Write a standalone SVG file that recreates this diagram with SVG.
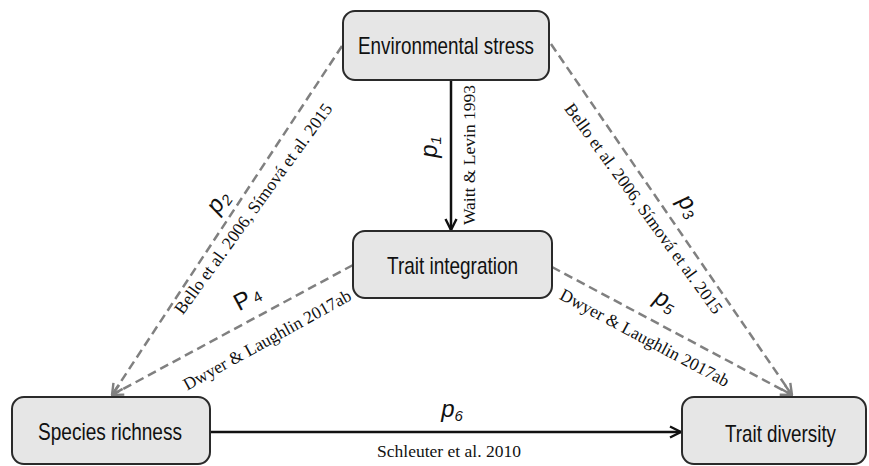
<svg xmlns="http://www.w3.org/2000/svg" width="869" height="466" viewBox="0 0 869 466">
<style>
.box{fill:#e6e6e6;stroke:#2a2a2a;stroke-width:2}
.lbl{font-family:"Liberation Sans",Arial,sans-serif;font-size:24px;fill:#111;text-anchor:middle}
.cit{font-family:"Liberation Serif","Times New Roman",serif;font-size:17.5px;fill:#111;text-anchor:middle}
.pv{font-family:"Liberation Sans",Arial,sans-serif;font-size:24px;font-style:italic;fill:#111;text-anchor:middle}
.solid{stroke:#111;stroke-width:2.5;fill:none}
.dash{stroke:#808080;stroke-width:2.5;fill:none;stroke-dasharray:9 5}
</style>
<defs>
<marker id="ab" viewBox="0 0 14 14" refX="13" refY="7" markerWidth="14" markerHeight="14" orient="auto" markerUnits="userSpaceOnUse">
<path d="M2,1.5 L13,7 L2,12.5" fill="none" stroke="#111" stroke-width="2.4"/>
</marker>
<marker id="ag" viewBox="0 0 14 14" refX="13" refY="7" markerWidth="14" markerHeight="14" orient="auto" markerUnits="userSpaceOnUse">
<path d="M2,1.5 L13,7 L2,12.5" fill="none" stroke="#808080" stroke-width="2.4"/>
</marker>
</defs>
<g id="connectors">
<line class="solid" x1="451" y1="80" x2="451" y2="230" marker-end="url(#ab)"/>
<line class="solid" x1="210" y1="432" x2="681" y2="432" marker-end="url(#ab)"/>
<line class="dash" x1="342" y1="46" x2="112" y2="395" marker-end="url(#ag)"/>
<line class="dash" x1="551" y1="44" x2="792" y2="395" marker-end="url(#ag)"/>
<line class="dash" x1="353" y1="265" x2="112" y2="395" marker-end="url(#ag)"/>
<line class="dash" x1="552" y1="267" x2="792" y2="395" marker-end="url(#ag)"/>
<text class="pv" transform="translate(437,147) rotate(-90)">p<tspan font-size="15" dy="4">1</tspan></text>
<text class="cit" transform="translate(475,155) rotate(-90)">Waitt &amp; Levin 1993</text>
<text class="pv" transform="translate(224,206) rotate(-55)">p<tspan font-size="15" dy="4">2</tspan></text>
<text class="cit" transform="translate(258,212) rotate(-54)">Bello et al. 2006, Símová et al. 2015</text>
<text class="pv" transform="translate(683,210) rotate(54)">p<tspan font-size="15" dy="4">3</tspan></text>
<text class="cit" transform="translate(639,212) rotate(54)">Bello et al. 2006, Símová et al. 2015</text>
<text class="pv" style="font-style:normal" transform="translate(251,305) rotate(-28)">P<tspan font-size="15" dx="3" dy="1">4</tspan></text>
<text class="cit" transform="translate(270,345) rotate(-29)">Dwyer &amp; Laughlin 2017ab</text>
<text class="pv" transform="translate(662,307) rotate(28)">p<tspan font-size="15" dy="4">5</tspan></text>
<text class="cit" transform="translate(642,343) rotate(28)">Dwyer &amp; Laughlin 2017ab</text>
<text class="pv" x="452" y="417">p<tspan font-size="15" dy="4">6</tspan></text>
<text class="cit" x="449" y="457">Schleuter et al. 2010</text>
</g>
<g id="env">
<rect class="box" x="343" y="11" width="206" height="69" rx="12"/>
<text class="lbl" x="446" y="54" textLength="176" lengthAdjust="spacingAndGlyphs">Environmental stress</text>
</g>
<g id="trait-integration">
<rect class="box" x="353" y="231" width="199" height="67" rx="12"/>
<text class="lbl" x="452.5" y="274" textLength="131" lengthAdjust="spacingAndGlyphs">Trait integration</text>
</g>
<g id="species-richness">
<rect class="box" x="12" y="397" width="198" height="67" rx="12"/>
<text class="lbl" x="110" y="440" textLength="144" lengthAdjust="spacingAndGlyphs">Species richness</text>
</g>
<g id="trait-diversity">
<rect class="box" x="682" y="397" width="184" height="67" rx="12"/>
<text class="lbl" x="780.5" y="442" textLength="111" lengthAdjust="spacingAndGlyphs">Trait diversity</text>
</g>
</svg>
